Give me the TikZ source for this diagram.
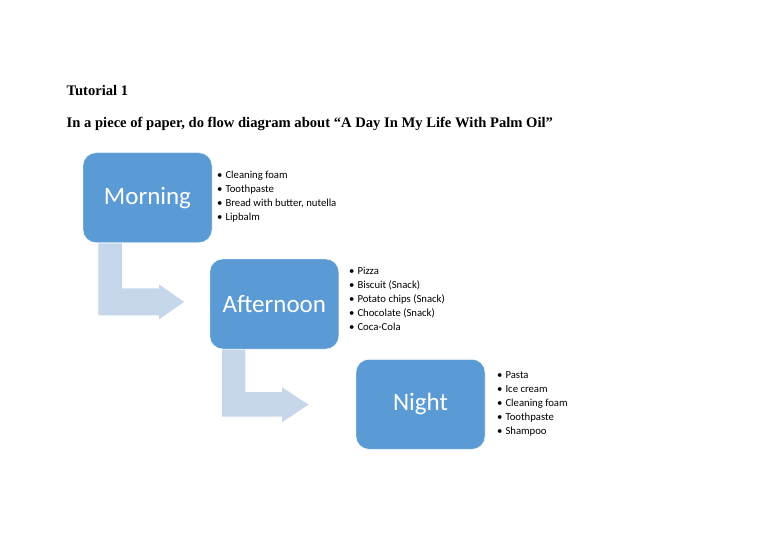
\documentclass[tikz,border=0pt]{standalone}
\usepackage{fontspec}
\setmainfont{Liberation Serif}
\newfontfamily\boxfont{Carlito}
\usepackage{tikz}
\usetikzlibrary{calc,positioning}

\definecolor{boxblue}{HTML}{5B9BD5}
\definecolor{flowblue}{HTML}{C6D6EB}

\begin{document}
\begin{tikzpicture}[
  x=1pt, y=-1pt,
  period/.style={draw=white, fill=boxblue, rounded corners=13pt, minimum width=129pt, minimum height=90pt, inner sep=0pt, text=white, font=\boxfont\fontsize{25}{30}\selectfont},
  items/.style={anchor=base west, align=left, inner sep=0pt, font=\boxfont\fontsize{10.7}{14}\selectfont},
  heading/.style={anchor=base west, inner sep=0pt, font=\bfseries\fontsize{14.6}{17}\selectfont},
  flow/.style={fill=flowblue}
]
\useasboundingbox (0,0) rectangle (768,543);

\node[heading] (tut) at (66.5,95) {Tutorial 1};
\node[heading] (task) at (66.5,127) {In a piece of paper, do flow diagram about “A Day In My Life With Palm Oil”};

\node[period] (morning) at (147.5,197.7) {Morning};
\node[period] (afternoon) at (274.3,304) {Afternoon};
\node[period] (night) at (420.5,404.3) {Night};

% lists sit on the baseline of their last line
\node[items] (morningitems) at (217,220.5) {•\hspace{3pt}Cleaning foam\\•\hspace{3pt}Toothpaste\\•\hspace{3pt}Bread with butter, nutella\\•\hspace{3pt}Lipbalm};
\node[items] (afternoonitems) at (349,330.5) {•\hspace{3pt}Pizza\\•\hspace{3pt}Biscuit (Snack)\\•\hspace{3pt}Potato chips (Snack)\\•\hspace{3pt}Chocolate (Snack)\\•\hspace{3pt}Coca-Cola};
\node[items] (nightitems) at (497,434.5) {•\hspace{3pt}Pasta\\•\hspace{3pt}Ice cream\\•\hspace{3pt}Cleaning foam\\•\hspace{3pt}Toothpaste\\•\hspace{3pt}Shampoo};

% bent arrows between the periods
\fill[flow] ($(morning.south west)+(15.6,0.5)$) -- ++(0,72) -- ++(60.7,0) -- ++(0,4) -- ++(25,-17.5) -- ++(-25,-17.5) -- ++(0,4) -- ++(-37.3,0) -- ++(0,-45) -- cycle;
\fill[flow] ($(afternoon.south west)+(12.4,0.5)$) -- ++(0,67) -- ++(60,0) -- ++(0,5.5) -- ++(26.6,-17.5) -- ++(-26.6,-17.5) -- ++(0,5) -- ++(-36.7,0) -- ++(0,-42.5) -- cycle;
\end{tikzpicture}
\end{document}
